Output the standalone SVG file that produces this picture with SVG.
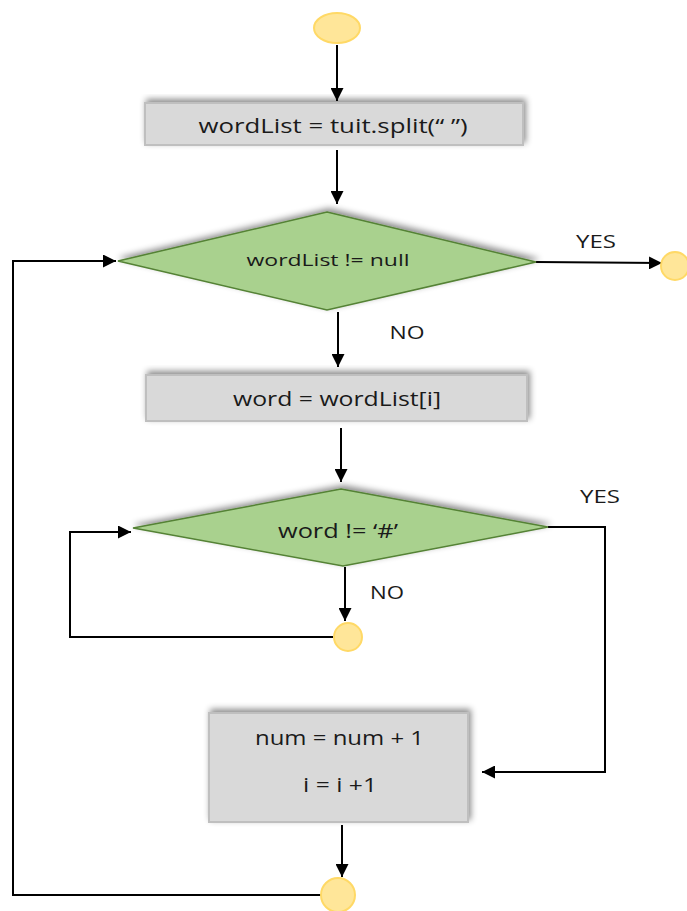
<svg xmlns="http://www.w3.org/2000/svg" width="687" height="911" viewBox="0 0 687 911">
<style>
  text { font-family: "Open Sans", "Liberation Sans", sans-serif; fill: #1a1a1a; text-anchor: middle; }
  .term { fill: #ffe699; stroke: #ffd966; stroke-width: 2; }
  .proc { fill: #d9d9d9; stroke: #bfbfbf; stroke-width: 2; }
  .dec { fill: #a9d18e; stroke: #548235; stroke-width: 1.5; }
  .conn { fill: none; stroke: #000; stroke-width: 2; }
  .lbl { font-size: 19px; }
  .t { font-size: 20px; }
  .td { font-size: 17px; }
</style>
<defs>
  <marker id="arr" viewBox="0 0 10 10" refX="10" refY="5" markerWidth="6.5" markerHeight="6.5" orient="auto" markerUnits="strokeWidth">
    <path d="M0,0 L10,5 L0,10 z" fill="#000"/>
  </marker>
  <filter id="sh" x="-10%" y="-20%" width="130%" height="150%">
    <feDropShadow dx="2" dy="-3" stdDeviation="3" flood-color="#000" flood-opacity="0.45"/>
  </filter>
</defs>
<rect width="687" height="911" fill="#fff"/>

<g id="connectors">
  <line class="conn" x1="337" y1="45" x2="337" y2="101" marker-end="url(#arr)"/>
  <line class="conn" x1="337" y1="150" x2="337" y2="204" marker-end="url(#arr)"/>
  <line class="conn" x1="536" y1="262" x2="662" y2="263" marker-end="url(#arr)"/>
  <line class="conn" x1="338" y1="312" x2="338" y2="367" marker-end="url(#arr)"/>
  <line class="conn" x1="341" y1="428" x2="341" y2="482" marker-end="url(#arr)"/>
  <polyline class="conn" points="548,527 605,527 605,772 482,772" marker-end="url(#arr)"/>
  <line class="conn" x1="345" y1="567" x2="345" y2="621" marker-end="url(#arr)"/>
  <polyline class="conn" points="333,637 70,637 70,532 131,532" marker-end="url(#arr)"/>
  <line class="conn" x1="342" y1="825" x2="342" y2="877" marker-end="url(#arr)"/>
  <polyline class="conn" points="321,895 13,895 13,261 116,261" marker-end="url(#arr)"/>
</g>

<g id="start">
  <ellipse class="term" cx="337" cy="28" rx="23" ry="15"/>
</g>

<g id="split">
  <rect class="proc" x="145" y="103" width="378" height="42" filter="url(#sh)"/>
  <text class="t" x="333" y="133" textLength="269" lengthAdjust="spacingAndGlyphs">wordList = tuit.split(“ ”)</text>
</g>

<g id="check-null">
  <polygon class="dec" points="327,212 536,262 327,310 118,261" filter="url(#sh)"/>
  <text class="td" x="328" y="266" textLength="163" lengthAdjust="spacingAndGlyphs">wordList != null</text>
</g>
<text class="lbl" x="596" y="248" textLength="40" lengthAdjust="spacingAndGlyphs">YES</text>
<text class="lbl" x="407" y="339" textLength="35" lengthAdjust="spacingAndGlyphs">NO</text>

<g id="end">
  <circle class="term" cx="675" cy="266" r="14"/>
</g>

<g id="assign-word">
  <rect class="proc" x="146" y="375" width="381" height="46" filter="url(#sh)"/>
  <text class="t" x="337" y="406" textLength="208" lengthAdjust="spacingAndGlyphs">word = wordList[i]</text>
</g>

<g id="check-hash">
  <polygon class="dec" points="341,489 548,527 343,566 133,528" filter="url(#sh)"/>
  <text class="t" x="338" y="538" textLength="120" lengthAdjust="spacingAndGlyphs">word != ‘#’</text>
</g>
<text class="lbl" x="600" y="503" textLength="40" lengthAdjust="spacingAndGlyphs">YES</text>
<text class="lbl" x="387" y="599" textLength="34" lengthAdjust="spacingAndGlyphs">NO</text>

<g id="inner-join">
  <circle class="term" cx="348" cy="637" r="14"/>
</g>

<g id="increment">
  <rect class="proc" x="209" y="713" width="259" height="109" filter="url(#sh)"/>
  <text class="t" x="339.5" y="745" textLength="169" lengthAdjust="spacingAndGlyphs">num = num + 1</text>
  <text class="t" x="340" y="792" textLength="74" lengthAdjust="spacingAndGlyphs">i = i +1</text>
</g>

<g id="outer-join">
  <circle class="term" cx="338" cy="895" r="17"/>
</g>
</svg>
